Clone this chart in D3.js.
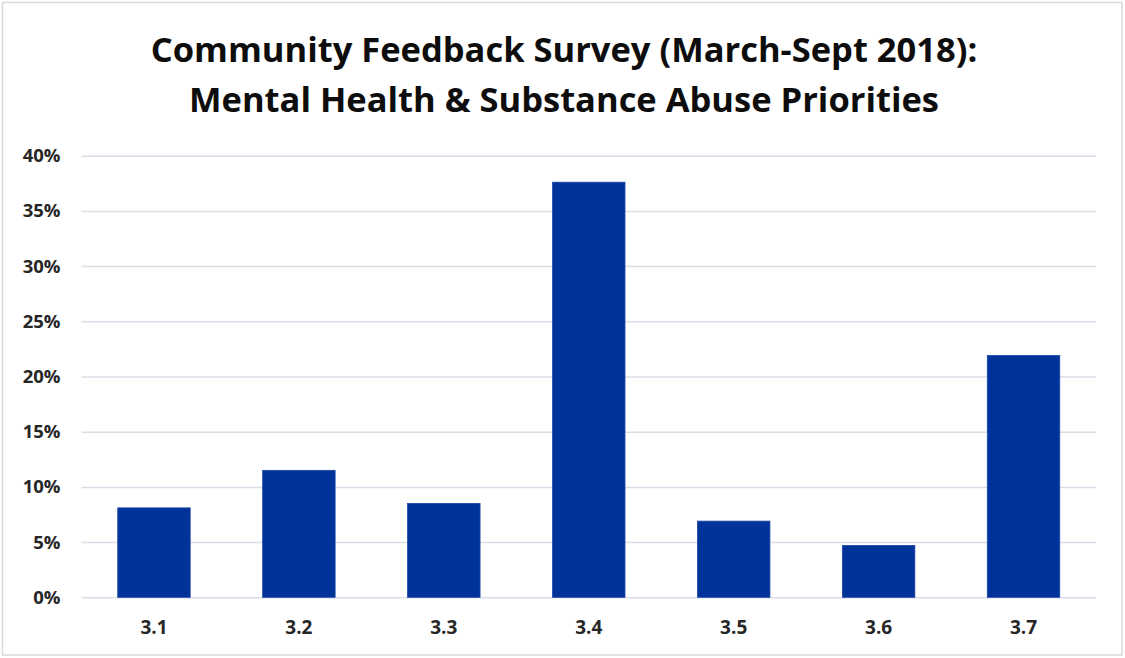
<!DOCTYPE html>
<html><head><meta charset="utf-8">
<script src="https://cdn.jsdelivr.net/npm/d3@7"></script>
<style>body{margin:0;background:#fff;} svg{display:block;}</style>
</head><body>
<svg id="c" width="1125" height="658"></svg>
<script>
const categories = ["3.1","3.2","3.3","3.4","3.5","3.6","3.7"];
const values = [0.081, 0.115, 0.085, 0.376, 0.069, 0.047, 0.219];
const yTicks = [0, 0.05, 0.10, 0.15, 0.20, 0.25, 0.30, 0.35, 0.40];
const titleLines = ["Community Feedback Survey (March-Sept 2018):", "Mental Health & Substance Abuse Priorities"];

const svg = d3.select("#c");
const W = 1125, H = 658;
const margin = {left: 81.5, right: 1125-1096, top: 155.7, bottom: 658-597.3};
const font = "'Open Sans', 'DejaVu Sans', sans-serif";

svg.append("rect").attr("x",2.5).attr("y",2.5).attr("width",W-5.5).attr("height",H-5.5)
  .attr("fill","#fff").attr("stroke","#d9d9d9").attr("stroke-width",1.5);

const x = d3.scaleBand().domain(categories).range([margin.left, W-margin.right]).paddingInner(0.5).paddingOuter(0.25);
const y = d3.scaleLinear().domain([0,0.40]).range([H-margin.bottom, margin.top]);

// gridlines
const grid = svg.append("g").attr("transform",`translate(${margin.left},0)`)
  .call(d3.axisLeft(y).tickValues(yTicks).tickSize(-(W-margin.right-margin.left)).tickFormat(""));
grid.select(".domain").remove();
grid.selectAll("line").attr("stroke","#dcdde8").attr("stroke-width",1.5);

// y labels
const ya = svg.append("g").attr("transform",`translate(${margin.left},0)`)
  .call(d3.axisLeft(y).tickValues(yTicks).tickSize(0).tickPadding(21).tickFormat(d3.format(".0%")));
ya.select(".domain").remove();
ya.selectAll("text").attr("font-family",font).attr("font-weight","bold").attr("font-size","18.5px").attr("fill","#262626");

// bars
svg.append("g").selectAll("rect").data(categories).join("rect")
  .attr("x", d => x(d)).attr("width", x.bandwidth())
  .attr("y", (d,i) => y(values[i])).attr("height", (d,i) => y(0)-y(values[i]))
  .attr("fill","#003399").attr("stroke","#1a45a8").attr("stroke-width",0.8);

// x labels
const xa = svg.append("g").attr("transform",`translate(0,${y(0)})`)
  .call(d3.axisBottom(x).tickSize(0).tickPadding(23));
xa.select(".domain").remove();
xa.selectAll("text").attr("font-family",font).attr("font-weight","bold").attr("font-size","19px").attr("fill","#262626");

// title
svg.append("g").selectAll("text").data(titleLines).join("text")
  .attr("x", 564).attr("y",(d,i)=>62+i*50).attr("text-anchor","middle")
  .attr("font-family",font).attr("font-weight","bold").attr("font-size","34.5px").attr("fill","#0d0d0d")
  .text(d=>d);
</script>
</body></html>
